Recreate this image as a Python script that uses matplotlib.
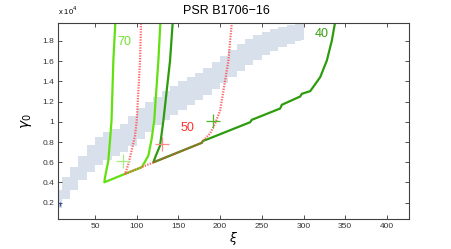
import numpy as np
import matplotlib
matplotlib.use('agg')
import matplotlib.pyplot as plt
from matplotlib.ticker import FuncFormatter

plt.rcParams['font.family'] = ['Liberation Sans', 'DejaVu Sans']

# band of allowed values (stepped region)
band_xi = [5, 15, 25, 35, 45, 55, 65, 75, 85, 95, 105, 115, 125, 135, 145,
           155, 165, 175, 185, 195, 205, 215, 225, 235, 245, 255, 265, 275, 285, 295, 300]
band_lo = [1500, 2400, 3300, 4200, 5000, 5700, 6200, 6600, 7000, 7600, 8300, 9000, 9700, 10200, 10700,
           11200, 11700, 12200, 12700, 13200, 13800, 14400, 15000, 15600, 16100, 16600, 17000, 17400, 17700, 18000, 18100]
band_hi = [3300, 4500, 5500, 6600, 7700, 8500, 9000, 9300, 9800, 10600, 11400, 12000, 12500, 13000, 13500,
           14000, 14400, 14850, 15300, 15900, 16500, 17100, 17700, 18200, 18600, 18900, 19150, 19350, 19600, 20000, 20000]

# curve labelled 70
xi_70 = [74.5, 72, 69.8, 68, 66, 62, 61.2, 86, 106, 110, 114, 118, 121, 126, 128.5]
g_70 = [20000, 16069, 10129, 8149, 6169, 4515, 4020, 4852, 5505, 6070, 6664, 8347, 10129, 16069, 20000]

# curve labelled 50
xi_50 = [105.3, 104, 100, 98, 94, 90, 86.8, 86, 178, 182, 188, 194, 200, 206, 210, 212, 214.3]
g_50 = [20000, 16069, 10129, 8644, 7159, 5842, 5010, 4852, 7921, 8347, 8842, 9832, 11119, 14089, 16069, 18049, 20000]

# curve labelled 40
xi_40 = [143.3, 140, 132, 128, 123, 120, 178, 179.5, 184, 236, 238, 248, 272, 274, 296, 298, 308,
         320, 328, 334, 338.2]
g_40 = [20000, 16069, 10129, 7654, 6664, 5990, 7921, 8120, 8248, 9960, 10198, 10525, 11317, 11683, 12505, 12772, 13029,
        14415, 16069, 18049, 20000]

# measured points
pt_xi = [83.3, 130.7, 191.2]
pt_g = [6120, 7833, 10059]

blue_xi = [7.6]
blue_g = [1900]

c_light = '#62e010'
c_dark = '#2c9c0c'
c_red = '#ff4d4d'

fig = plt.figure(figsize=(4.52, 2.49), dpi=100)
ax = fig.add_axes([0.129, 0.1217, 0.775, 0.7871])

ax.fill_between(band_xi, band_lo, band_hi, step='mid', color='#d8e0eb', linewidth=0)

ax.plot(xi_70, g_70, color=c_light, linewidth=1.6, solid_joinstyle='round')
ax.plot(xi_40, g_40, color=c_dark, linewidth=1.6, solid_joinstyle='round')
ax.plot(xi_50, g_50, color=c_red, linewidth=1.6, linestyle=(0, (0.6, 0.6)), alpha=0.85)

ax.plot(pt_xi[0], pt_g[0], '+', color='#a8ec80', markersize=10, markeredgewidth=0.9)
ax.plot(pt_xi[1], pt_g[1], '+', color='#ff8a8a', markersize=10, markeredgewidth=0.9)
ax.plot(pt_xi[2], pt_g[2], '+', color='#4db82a', markersize=10, markeredgewidth=0.9)
ax.plot(blue_xi, blue_g, '|', color='#4050a0', markersize=3, markeredgewidth=1)

ax.text(84.8, 17880, '70', color='#70e030', fontsize=9, ha='center', va='center')
ax.text(160.8, 9406, '50', color='#ff3030', fontsize=9, ha='center', va='center')
ax.text(322, 18643, '40', color='#3aa010', fontsize=9, ha='center', va='center')

ax.set_xlim(6, 426)
ax.set_ylim(420, 19800)
ax.set_xticks([50, 100, 150, 200, 250, 300, 350, 400])
ax.set_yticks([2000, 4000, 6000, 8000, 10000, 12000, 14000, 16000, 18000])
ax.yaxis.set_major_formatter(FuncFormatter(lambda v, p: ('%.1f' % (v / 1e4)).rstrip('0').rstrip('.')))
ax.tick_params(direction='in', length=3, width=0.6, labelsize=6, top=True, right=True,
               colors='#333333', pad=3)
for spine in ax.spines.values():
    spine.set_linewidth(0.8)
    spine.set_color('#404040')

ax.text(0.0, 1.03, r'x 10$^4$', transform=ax.transAxes, fontsize=5.5, ha='left', va='bottom')
fig.text(0.5, 1 - 14 / 249, 'PSR B1706\u221216', fontsize=9, ha='center', va='baseline')
ax.set_xlabel(r'$\xi$', fontsize=9, labelpad=0)
ax.set_ylabel(r'$\gamma_0$', fontsize=10, labelpad=6)

plt.savefig('out.png', dpi=100)
